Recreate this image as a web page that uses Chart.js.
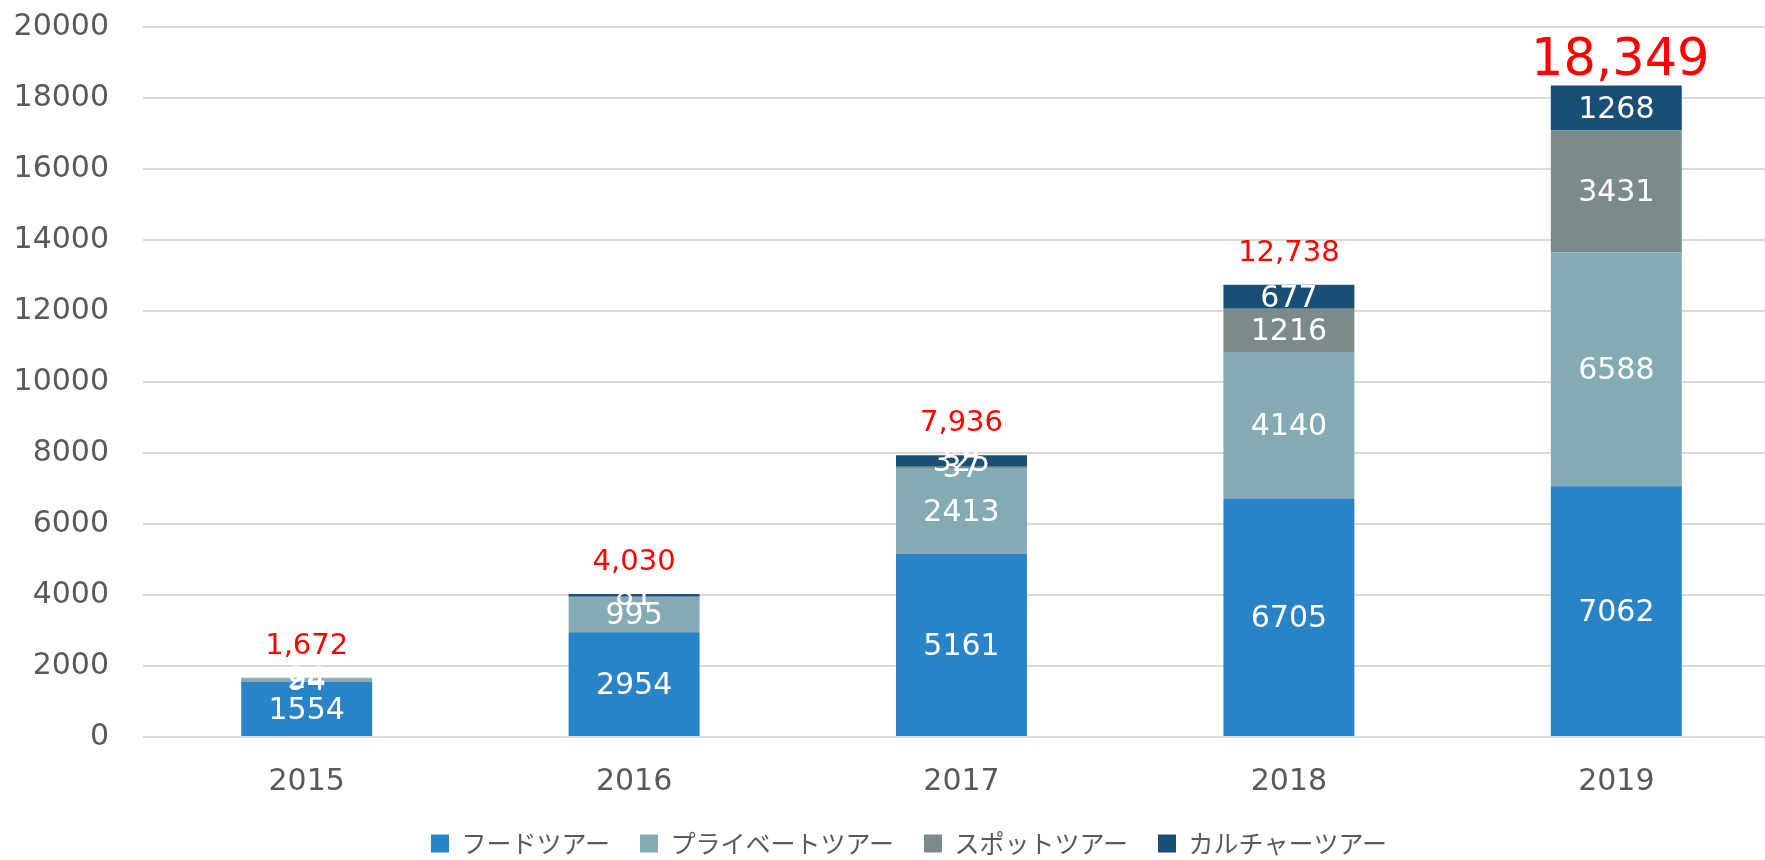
<!DOCTYPE html>
<html><head><meta charset="utf-8">
<script src="https://cdn.jsdelivr.net/npm/chart.js@4/dist/chart.umd.min.js"></script>
<style>
html,body{margin:0;padding:0;overflow:hidden;background:#fff;width:1765px;height:860px}
#wrap{width:1780px;height:866px}
</style></head><body>
<div id="wrap"><canvas id="c" width="1780" height="866"></canvas></div>
<script>
const categories = ['2015', '2016', '2017', '2018', '2019'];
const seriesNames = ['フードツアー', 'プライベートツアー', 'スポットツアー', 'カルチャーツアー'];
const foodTour = [1554, 2954, 5161, 6705, 7062];
const privateTour = [94, 995, 2413, 4140, 6588];
const spotTour = [24, 0, 37, 1216, 3431];
const cultureTour = [0, 81, 325, 677, 1268];
const totals = [1672, 4030, 7936, 12738, 18349];
const yTickValues = [0, 2000, 4000, 6000, 8000, 10000, 12000, 14000, 16000, 18000, 20000];

const seriesValues = [foodTour, privateTour, spotTour, cultureTour];
const seriesColors = ['#2884C6', '#84ABB4', '#7B8B8C', '#1A4F75'];
const FONT = '"DejaVu Sans", Verdana, sans-serif';

const labelPlugin = {
  id: 'labels',
  afterLayout(chart) {
    if (chart.legend) { chart.legend.left += 12; chart.legend.right += 12; }
  },
  afterDatasetsDraw(chart) {
    const ctx = chart.ctx;
    ctx.save();
    ctx.textAlign = 'center';
    ctx.textBaseline = 'middle';
    ctx.fillStyle = '#FFFFFF';
    ctx.font = '30px ' + FONT;
    chart.data.datasets.forEach((ds, di) => {
      const meta = chart.getDatasetMeta(di);
      meta.data.forEach((bar, i) => {
        const v = ds.data[i];
        if (!v) return;
        const cy = (bar.y + bar.base) / 2;
        ctx.fillText(String(v), bar.x, cy + 2);
      });
    });
    const yScale = chart.scales.y;
    const meta0 = chart.getDatasetMeta(0);
    ctx.fillStyle = '#FF0000';
    ctx.textBaseline = 'alphabetic';
    totals.forEach((t, i) => {
      const x = meta0.data[i].x;
      const top = yScale.getPixelForValue(t);
      const big = i === totals.length - 1;
      ctx.font = (big ? '51px ' : '29px ') + FONT;
      ctx.fillText(t.toLocaleString('en-US'), x + (big ? 4 : 0), top - (big ? 11 : 24));
    });
    ctx.restore();
  }
};

new Chart(document.getElementById('c'), {
  type: 'bar',
  data: {
    labels: categories,
    datasets: seriesNames.map((name, k) => ({
      label: name,
      data: seriesValues[k],
      backgroundColor: seriesColors[k],
      borderWidth: 0,
      barPercentage: 0.4,
      categoryPercentage: 1.0
    }))
  },
  options: {
    responsive: false,
    animation: false,
    devicePixelRatio: 1,
    layout: { padding: { left: 14, right: 0, top: 27, bottom: 0 } },
    plugins: {
      legend: {
        position: 'bottom',
        labels: {
          font: { family: '"Noto Sans CJK JP", sans-serif', size: 25 },
          color: '#595959',
          boxWidth: 18,
          boxHeight: 18,
          padding: 30
        }
      },
      tooltip: { enabled: false }
    },
    scales: {
      x: {
        stacked: true,
        grid: { display: false, drawTicks: false },
        border: { display: false },
        ticks: { font: { family: FONT, size: 30, lineHeight: 0.8 }, color: '#595959', padding: 33 },
        afterFit(axis) { axis.paddingLeft = 0; axis.paddingRight = 0; axis.height = 64; }
      },
      y: {
        stacked: true,
        min: 0,
        max: 20000,
        afterBuildTicks(axis) { axis.ticks = yTickValues.map(v => ({ value: v })); },
        grid: { color: '#D9D9D9', lineWidth: 2, drawTicks: false },
        border: { display: false },
        ticks: { font: { family: FONT, size: 30 }, color: '#595959', padding: 34, callback: v => String(v) },
        afterFit(axis) { axis.width = 129; axis.paddingTop = 0; axis.paddingBottom = 0; }
      }
    }
  },
  plugins: [labelPlugin]
});
</script>
</body></html>
